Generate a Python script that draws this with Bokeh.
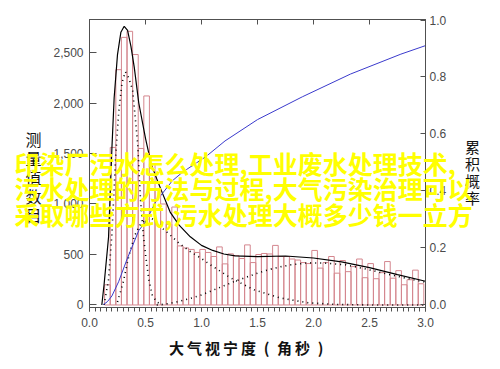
from bokeh.plotting import figure
from bokeh.models import (Range1d, LinearAxis, FixedTicker, SingleIntervalTicker,
                          NumeralTickFormatter, Label)
from bokeh.embed import file_html
from bokeh.resources import INLINE

# ---------------- data ----------------
bin_centers = [0.16, 0.21, 0.26, 0.31, 0.36, 0.41, 0.46, 0.51, 0.56, 0.61,
               0.66, 0.71, 0.76, 0.81, 0.86, 0.91, 0.96, 1.01, 1.06, 1.11,
               1.16, 1.21, 1.26, 1.31, 1.36, 1.41, 1.46, 1.51, 1.56, 1.61,
               1.66, 1.71, 1.76, 1.81, 1.86, 1.91, 1.96, 2.01, 2.06, 2.11,
               2.16, 2.21, 2.26, 2.31, 2.36, 2.41, 2.46, 2.51, 2.56, 2.61,
               2.66, 2.71, 2.76, 2.81, 2.86, 2.91, 2.96]
bin_counts = [200, 1560, 2330, 2650, 2710, 2480, 1550, 2070, 1400, 1150,
              1000, 800, 970, 585, 565, 550, 520, 550, 520, 480,
              575, 407, 506, 490, 460, 595, 420, 500, 510, 505,
              590, 480, 480, 455, 445, 420, 410, 540, 365, 420,
              480, 315, 440, 330, 380, 455, 270, 410, 260, 320,
              430, 265, 340, 200, 250, 345, 210]

fit_x = [0.11, 0.13, 0.17, 0.2, 0.22, 0.25, 0.28, 0.31, 0.34, 0.37, 0.4, 0.44,
         0.5, 0.55, 0.6, 0.65, 0.72, 0.8, 0.9, 1.0, 1.1, 1.2, 1.3, 1.5, 1.75,
         2.0, 2.25, 2.5, 2.75, 3.0]
fit_y = [0, 200, 670, 1550, 2050, 2480, 2700, 2760, 2720, 2560, 2350, 2000,
         1650, 1400, 1250, 1110, 920, 790, 675, 590, 540, 505, 486, 478, 485,
         465, 427, 370, 300, 235]

narrow_x = [0.13, 0.17, 0.2, 0.235, 0.26, 0.29, 0.32, 0.35, 0.385, 0.41, 0.43,
            0.455, 0.48, 0.5, 0.53, 0.56, 0.6, 0.65]
narrow_y = [0, 250, 700, 1500, 1900, 2200, 2310, 2250, 2130, 1835, 1600,
            1050, 700, 500, 250, 100, 30, 0]

medium_x = [0.25, 0.3, 0.35, 0.4, 0.45, 0.5, 0.55, 0.6, 0.65, 0.72, 0.8, 0.9,
            1.0, 1.08, 1.26, 1.47, 1.7, 1.95, 2.2, 2.5, 3.0]
medium_y = [30, 220, 480, 680, 790, 845, 860, 825, 760, 694, 610, 529,
            460, 397, 268, 150, 70, 22, 5, 0, 0]

broad_x = [0.6, 0.7, 0.8, 0.9, 1.0, 1.1, 1.2, 1.3, 1.4, 1.5, 1.6, 1.7, 1.8,
           1.95, 2.1, 2.29, 2.42, 2.55, 2.69, 2.85, 3.0]
broad_y = [0, 12, 35, 65, 100, 145, 190, 235, 275, 315, 350, 377, 398,
           417, 415, 397, 367, 335, 298, 260, 225]

cum_x = [0.125, 0.16, 0.2, 0.26, 0.336, 0.44, 0.5, 0.59, 0.65, 0.74, 0.83,
         1.04, 1.21, 1.5, 1.9, 2.33, 2.78, 3.0]
cum_y = [0, 0.01, 0.03, 0.08, 0.16, 0.26, 0.29, 0.36, 0.39, 0.435, 0.465,
         0.52, 0.575, 0.65, 0.73, 0.81, 0.88, 0.91]

left_ticks = [0, 500, 1000, 1500, 2000, 2500]
right_ticks = [0.0, 0.2, 0.4, 0.6, 0.8, 1.0]

x_title = "大气视宁度(角秒)"
left_title = "测量值数目"
right_title = "累积概率"
overlay_lines = ["印染厂污水怎么处理,工业废水处理技术,",
                 "污水处理的方法与过程,大气污染治理可以",
                 "采取哪些方式,污水处理大概多少钱一立方"]

# ---------------- layout ----------------
W, H = 496, 360
X0, X1 = 0.0, 3.0
YL0, YL1 = -25, 2827
YR0, YR1 = -0.0105, 1.0018
FL, FR, FT, FB = 89, 425, 19, 307   # frame edges in page pixels

AXC = "#505050"
LBLC = "#4a4a4a"
TF = "Liberation Sans"
CJK = "Noto Sans CJK SC"

p = figure(width=W, height=H, output_backend="svg", toolbar_location=None,
           title=None,
           x_range=Range1d(X0, X1), y_range=Range1d(YL0, YL1),
           min_border_left=FL, min_border_right=W - FR,
           min_border_top=FT, min_border_bottom=H - FB)
p.extra_y_ranges = {"right": Range1d(YR0, YR1)}
p.xgrid.visible = False
p.ygrid.visible = False
p.outline_line_color = AXC
p.background_fill_color = "white"
p.border_fill_color = "white"

# bottom axis
xa = p.xaxis[0]
xa.ticker = SingleIntervalTicker(interval=0.5, num_minor_ticks=10)
xa.formatter = NumeralTickFormatter(format="0.0")
xa.axis_line_color = AXC
xa.major_tick_line_color = AXC
xa.minor_tick_line_color = AXC
xa.major_tick_in = 0
xa.major_tick_out = 4
xa.minor_tick_in = 0
xa.minor_tick_out = 4
xa.major_label_standoff = 6
xa.major_label_text_font = TF
xa.major_label_text_font_size = "12px"
xa.major_label_text_color = LBLC

# left axis
ya = p.yaxis[0]
ya.ticker = FixedTicker(ticks=left_ticks)
ya.formatter = NumeralTickFormatter(format="0,0")
ya.axis_line_color = AXC
ya.major_tick_line_color = AXC
ya.minor_tick_line_color = None
ya.major_tick_in = 7
ya.major_tick_out = 0
ya.major_label_standoff = 6
ya.major_label_text_font = TF
ya.major_label_text_font_size = "12px"
ya.major_label_text_color = LBLC

# right axis
ra = LinearAxis(y_range_name="right", ticker=FixedTicker(ticks=right_ticks),
                formatter=NumeralTickFormatter(format="0.0"))
ra.axis_line_color = AXC
ra.major_tick_line_color = AXC
ra.minor_tick_line_color = None
ra.major_tick_in = 5
ra.major_tick_out = 0
ra.major_label_standoff = 4
ra.major_label_text_font = TF
ra.major_label_text_font_size = "12px"
ra.major_label_text_color = LBLC
p.add_layout(ra, "right")

# top axis (tick marks only, no labels)
ta = LinearAxis(ticker=SingleIntervalTicker(interval=0.5, num_minor_ticks=0))
ta.axis_line_color = AXC
ta.major_tick_line_color = AXC
ta.minor_tick_line_color = None
ta.major_tick_in = 5
ta.major_tick_out = 0
ta.major_label_text_font_size = "1px"
ta.major_label_text_color = None
ta.major_label_standoff = 0
p.add_layout(ta, "above")

# histogram
p.vbar(x=bin_centers, top=bin_counts, bottom=0, width=0.05,
       fill_alpha=0, line_color="#d4868e", line_width=1)

# component fits
for cx, cy in [(narrow_x, narrow_y), (medium_x, medium_y), (broad_x, broad_y)]:
    p.line(cx, cy, line_color="black", line_width=1.6, line_dash="1 4")
p.line(fit_x, fit_y, line_color="black", line_width=1.2)
p.line(cum_x, cum_y, line_color="#3a3acc", line_width=1, y_range_name="right")

# ---------------- transparent text overlay (page-pixel coordinates) ----------------
q = figure(width=W, height=H, output_backend="svg", toolbar_location=None,
           title=None,
           x_range=Range1d(0, W), y_range=Range1d(H, 0),
           x_axis_type=None, y_axis_type=None, min_border=0)
q.outline_line_color = None
q.background_fill_alpha = 0
q.border_fill_alpha = 0
q.styles = {"position": "absolute", "left": "0px", "top": "0px"}

for i, ch in enumerate(x_title):
    q.add_layout(Label(x=176 + 18 * i, y=347, text=ch,
                       text_font=CJK, text_font_size="15px", text_font_style="bold",
                       text_color="#111111", text_align="center",
                       text_baseline="middle"))
for i, ch in enumerate(left_title):
    q.add_layout(Label(x=33, y=138 + 19 * i, text=ch,
                       text_font=CJK, text_font_size="16px", text_color="#111111",
                       text_align="center", text_baseline="middle"))
for i, ch in enumerate(right_title):
    q.add_layout(Label(x=472, y=146 + 17 * i, text=ch,
                       text_font=CJK, text_font_size="15px", text_color="#111111",
                       text_align="center", text_baseline="middle"))
for i, line in enumerate(overlay_lines):
    q.add_layout(Label(x=14, y=162 + 25.5 * i, text=line,
                       text_font=CJK, text_font_size="25px", text_font_style="bold",
                       text_color="#ffff00", text_align="left",
                       text_baseline="middle"))

open("out.html", "w").write(file_html([p, q], INLINE))
